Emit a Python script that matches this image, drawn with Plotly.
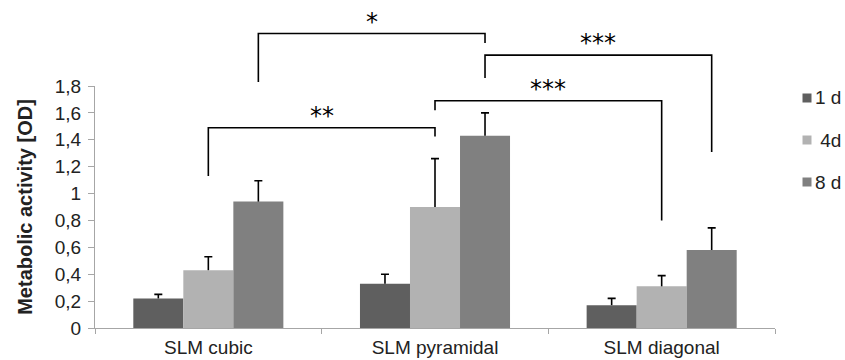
import plotly.graph_objects as go

categories = ["SLM cubic", "SLM pyramidal", "SLM diagonal"]
series_names = ["1 d", "\u00a04d", "8 d"]
series_colors = ["#5f5f5f", "#b2b2b2", "#808080"]
values_1d = [0.22, 0.33, 0.17]
values_4d = [0.43, 0.90, 0.31]
values_8d = [0.94, 1.43, 0.58]
err_1d = [0.03, 0.07, 0.05]
err_4d = [0.10, 0.36, 0.08]
err_8d = [0.155, 0.17, 0.165]
y_tickvals = [0, 0.2, 0.4, 0.6, 0.8, 1.0, 1.2, 1.4, 1.6, 1.8]
y_ticktext = ["0", "0,2", "0,4", "0,6", "0,8", "1", "1,2", "1,4", "1,6", "1,8"]

# significance brackets: (cat_a, series_a, cat_b, series_b, y_left_end, y_top, y_right_end, label)
brackets = [
    (0, 1, 1, 1, 1.13, 1.49, 1.425, "**"),
    (0, 2, 1, 2, 1.83, 2.19, 2.12, "*"),
    (1, 2, 2, 2, 1.86, 2.03, 1.31, "***"),
    (1, 1, 2, 1, 1.62, 1.69, 0.80, "***"),
]

W, H = 845, 360
ML, MR, MT, MB = 95, 70, 86, 32
PW, PH = W - ML - MR, H - MT - MB
YMAX = 1.8
BARGAP = 0.338
bar_w = (1 - BARGAP) / 3

fig = go.Figure()
all_vals = [values_1d, values_4d, values_8d]
all_err = [err_1d, err_4d, err_8d]
for i in range(3):
    # bar with upward whisker only (no caps)
    fig.add_trace(go.Bar(
        x=categories, y=all_vals[i], name=series_names[i], offsetgroup=str(i),
        marker=dict(color=series_colors[i], line=dict(width=0)),
        error_y=dict(type="data", array=all_err[i], arrayminus=[0] * len(categories),
                     symmetric=False, color="black", thickness=1.6, width=0),
        showlegend=False,
    ))
for i in range(3):
    # transparent bar reaching the whisker top, carrying only the cap
    tops = [v + e for v, e in zip(all_vals[i], all_err[i])]
    fig.add_trace(go.Bar(
        x=categories, y=tops, offsetgroup=str(i), hoverinfo="skip",
        marker=dict(color="rgba(0,0,0,0)", line=dict(width=0)),
        error_y=dict(type="constant", value=0.0001, color="black", thickness=1.6, width=4),
        showlegend=False,
    ))

def xpos(cat, s):
    return cat + (s - 1) * bar_w

for (ca, sa, cb, sb, yl, yt, yr, lab) in brackets:
    xa, xb = xpos(ca, sa), xpos(cb, sb)
    path = f"M {xa} {yl/YMAX} L {xa} {yt/YMAX} L {xb} {yt/YMAX} L {xb} {yr/YMAX}"
    fig.add_shape(type="path", path=path, xref="x", yref="paper",
                  line=dict(color="black", width=1.6))
    fig.add_annotation(x=(xa + xb) / 2, y=yt / YMAX, xref="x", yref="paper",
                       text=lab, showarrow=False, yanchor="bottom", yshift=-4,
                       font=dict(size=24, color="black", family="DejaVu Sans"))

# manual legend (pixel positions converted to paper coordinates)
legend_x_px = 807
legend_y_px = [98, 140, 182]
for i in range(3):
    cx = (legend_x_px - ML) / PW
    cy = (H - MB - legend_y_px[i]) / PH
    hw, hh = 4.5 / PW, 4.5 / PH
    fig.add_shape(type="rect", xref="paper", yref="paper",
                  x0=cx - hw, x1=cx + hw, y0=cy - hh, y1=cy + hh,
                  fillcolor=series_colors[i], line=dict(width=0))
    fig.add_annotation(x=(legend_x_px + 7 - ML) / PW, y=cy, xref="paper", yref="paper",
                       text=series_names[i], showarrow=False, xanchor="left", yanchor="middle",
                       borderpad=0, font=dict(size=19, color="#222222"))

fig.update_layout(
    width=W, height=H,
    margin=dict(l=ML, r=MR, t=MT, b=MB, autoexpand=False),
    paper_bgcolor="white", plot_bgcolor="white",
    barmode="group", bargap=BARGAP, bargroupgap=0,
    font=dict(family="Liberation Sans", size=19, color="#222222"),
    showlegend=False,
    xaxis=dict(showline=True, linecolor="#a6a6a6", linewidth=1, automargin=False,
               ticks="outside", tickson="boundaries", ticklen=5, tickcolor="#a6a6a6",
               ticklabelstandoff=2,
               showgrid=False, tickfont=dict(size=19, color="#222222")),
    yaxis=dict(range=[0, YMAX], tickvals=y_tickvals, ticktext=y_ticktext, automargin=False,
               showline=True, linecolor="#a6a6a6", linewidth=1,
               ticks="outside", ticklen=6, tickcolor="#a6a6a6",
               ticklabelstandoff=3,
               showgrid=False, zeroline=False,
               tickfont=dict(size=19, color="#222222"),
               title=dict(text="<b>Metabolic activity [OD]</b>", standoff=16,
                          font=dict(size=20, color="#222222"))),
)

fig.write_html("out.html", config={"displayModeBar": False},
               post_script="document.body.style.margin='0';document.body.style.overflow='hidden';")
